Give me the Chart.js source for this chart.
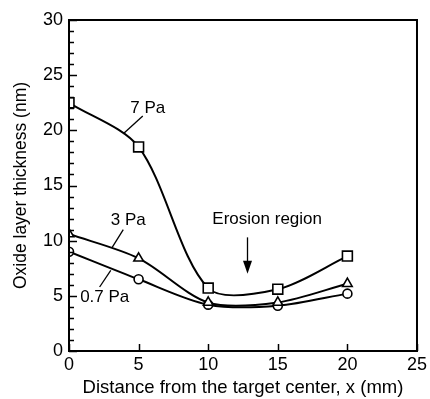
<!DOCTYPE html>
<html>
<head>
<meta charset="utf-8">
<script src="https://cdn.jsdelivr.net/npm/chart.js@4"></script>
<style>
  html, body { margin: 0; padding: 0; background: #fff; }
  #wrap { width: 430px; height: 399px; }
</style>
</head>
<body>
<div id="wrap"><canvas id="chart" width="430" height="399"></canvas></div>
<script>
// x positions (mm) and measured thicknesses (nm)
const distances = [0, 5, 10, 15, 20];
const pa7 = [22.5, 18.5, 5.7, 5.6, 8.6];
const pa3 = [10.6, 8.4, 4.4, 4.4, 6.1];
const pa07 = [9.0, 6.5, 4.2, 4.1, 5.2];
const xTicks = [0, 5, 10, 15, 20, 25];
const yTicks = [0, 5, 10, 15, 20, 25, 30];

// curve labels: [text, textX, textY, leaderFrom, leaderTo] in data units
const curveLabels = [
    ['7 Pa', 4.4, 22.0, [5.3, 21.3], [3.9, 19.7]],
    ['3 Pa', 3.0, 11.8, [3.9, 11.0], [3.1, 9.4]],
    ['0.7 Pa', 0.8, 4.9, [2.2, 5.8], [3.0, 7.3]]
];

const FONT = 'Liberation Sans, Arial, sans-serif';

function toPoints(ys) {
    return distances.map((x, i) => ({ x: x, y: ys[i] }));
}

function series(label, ys, style, radius) {
    return {
        label: label,
        data: toPoints(ys),
        borderColor: '#000',
        borderWidth: 2,
        tension: 0.3,
        pointStyle: style,
        pointRadius: radius,
        pointBackgroundColor: '#fff',
        pointBorderColor: '#000',
        pointBorderWidth: 1.6
    };
}

// 枠線、内向き目盛り、注記
const decorations = {
    id: 'decorations',
    afterDraw(chart) {
        const ctx = chart.ctx;
        const a = chart.chartArea;
        const xs = chart.scales.x;
        const ys = chart.scales.y;
        ctx.save();
        ctx.strokeStyle = '#000';
        ctx.fillStyle = '#000';

        ctx.lineWidth = 2;
        ctx.strokeRect(a.left, a.top, a.right - a.left, a.bottom - a.top);

        // y ticks
        ctx.lineWidth = 1.5;
        for (let v = 0; v <= 30; v++) {
            const py = Math.round(ys.getPixelForValue(v)) + 0.5;
            const len = v % 5 === 0 ? 8 : 5;
            ctx.beginPath();
            ctx.moveTo(a.left, py);
            ctx.lineTo(a.left + len, py);
            ctx.stroke();
        }
        // x ticks
        xTicks.forEach(v => {
            const px = Math.round(xs.getPixelForValue(v)) + 0.5;
            ctx.beginPath();
            ctx.moveTo(px, a.bottom);
            ctx.lineTo(px, a.bottom - 7);
            ctx.stroke();
        });

        ctx.font = '17px ' + FONT;
        ctx.textBaseline = 'middle';
        ctx.textAlign = 'left';
        ctx.lineWidth = 1.3;
        curveLabels.forEach(([text, tx, ty, from, to]) => {
            ctx.fillText(text, xs.getPixelForValue(tx), ys.getPixelForValue(ty));
            ctx.beginPath();
            ctx.moveTo(xs.getPixelForValue(from[0]), ys.getPixelForValue(from[1]));
            ctx.lineTo(xs.getPixelForValue(to[0]), ys.getPixelForValue(to[1]));
            ctx.stroke();
        });

        // erosion region arrow
        ctx.fillText('Erosion region', xs.getPixelForValue(10.3), ys.getPixelForValue(11.9));
        const ax = Math.round(xs.getPixelForValue(12.8)) + 0.5;
        const ay1 = ys.getPixelForValue(10.3);
        const ay2 = ys.getPixelForValue(7.0);
        ctx.beginPath();
        ctx.moveTo(ax, ay1);
        ctx.lineTo(ax, ay2 - 10);
        ctx.stroke();
        ctx.beginPath();
        ctx.moveTo(ax - 4.5, ay2 - 13);
        ctx.lineTo(ax + 4.5, ay2 - 13);
        ctx.lineTo(ax, ay2);
        ctx.closePath();
        ctx.fill();
        ctx.restore();
    }
};

const ctx = document.getElementById('chart').getContext('2d');
new Chart(ctx, {
    type: 'line',
    data: {
        datasets: [
            series('7 Pa', pa7, 'rect', 7),
            series('3 Pa', pa3, 'triangle', 5.5),
            series('0.7 Pa', pa07, 'circle', 4.5)
        ]
    },
    options: {
        responsive: false,
        animation: false,
        layout: { padding: { top: 20, right: 13, left: 0, bottom: 0 } },
        plugins: {
            legend: { display: false },
            tooltip: { enabled: false }
        },
        scales: {
            x: {
                type: 'linear',
                min: 0,
                max: 25,
                afterBuildTicks(scale) { scale.ticks = xTicks.map(v => ({ value: v })); },
                afterFit(scale) { scale.height = 48; },
                grid: { display: false, drawTicks: false },
                border: { display: false },
                ticks: { color: '#000', padding: 3, font: { family: FONT, size: 18 } },
                title: {
                    display: true,
                    text: 'Distance from the target center, x (mm)',
                    color: '#000',
                    padding: { top: 0, bottom: 0 },
                    font: { family: FONT, size: 18.5 }
                }
            },
            y: {
                type: 'linear',
                min: 0,
                max: 30,
                afterBuildTicks(scale) { scale.ticks = yTicks.map(v => ({ value: v })); },
                afterFit(scale) { scale.width = 69; },
                grid: { display: false, drawTicks: false },
                border: { display: false },
                ticks: { color: '#000', padding: 6, font: { family: FONT, size: 18 } },
                title: {
                    display: true,
                    text: 'Oxide layer thickness (nm)',
                    color: '#000',
                    padding: { top: 11, bottom: 0 },
                    font: { family: FONT, size: 17.5 }
                }
            }
        }
    },
    plugins: [decorations]
});
</script>
</body>
</html>
